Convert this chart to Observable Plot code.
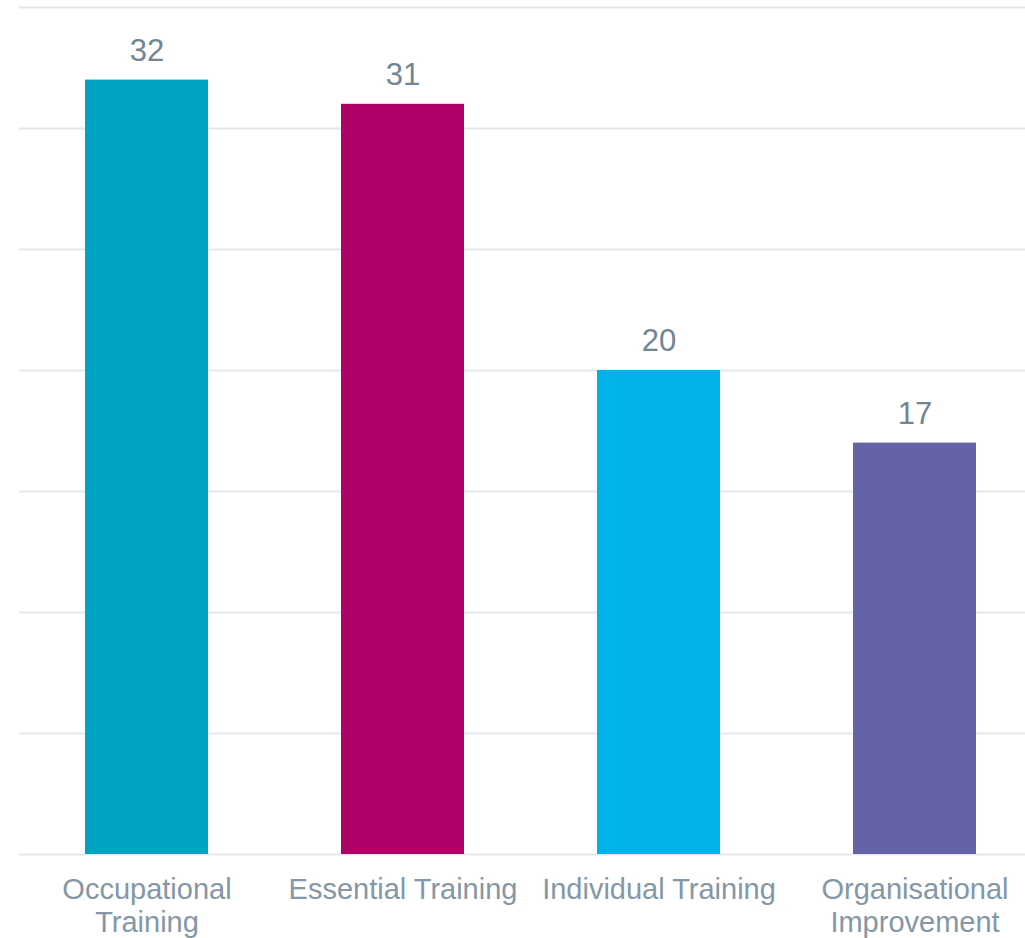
<!DOCTYPE html>
<html>
<head>
<meta charset="utf-8">
<script src="https://cdn.jsdelivr.net/npm/d3@7"></script>
<script src="https://cdn.jsdelivr.net/npm/@observablehq/plot@0.6"></script>
<style>
  html, body { margin: 0; padding: 0; background: #fff; }
  #chart svg { display: block; }
</style>
</head>
<body>
<div id="chart"></div>
<script>
const categories = ["Occupational Training", "Essential Training", "Individual Training", "Organisational Improvement"];
const tickLabels = ["Occupational\nTraining", "Essential Training", "Individual Training", "Organisational\nImprovement"];
const values = [32, 31, 20, 17];
const colors = ["#00A3C0", "#B0006A", "#00B2EA", "#6563A8"];
const gridTicks = [0, 5, 10, 15, 20, 25, 30, 35];

const data = categories.map((c, i) => ({category: c, value: values[i]}));
const labelOf = new Map(categories.map((c, i) => [c, tickLabels[i]]));

const chart = Plot.plot({
  width: 1025,
  height: 938,
  marginTop: 7,
  marginBottom: 84,
  marginLeft: 19,
  marginRight: 0,
  style: {fontFamily: "'Liberation Sans', Arial, sans-serif", background: "#fff"},
  x: {domain: categories, range: [18, 1042], paddingInner: 0.52, paddingOuter: 0.26, axis: null},
  y: {domain: [0, 35], axis: null},
  color: {domain: categories, range: colors},
  marks: [
    Plot.ruleY(gridTicks, {stroke: "#E4E7EB", strokeWidth: 2}),
    Plot.barY(data, {x: "category", y: "value", fill: "category"}),
    Plot.text(data, {x: "category", y: "value", text: d => String(d.value), lineAnchor: "middle", dy: -29, fontSize: 31, fill: "#728593"}),
    Plot.axisX({tickSize: 0, tickPadding: 21, fontSize: 29, lineHeight: 1.13, label: null, tickFormat: d => labelOf.get(d), fill: "#8497A6", color: "#8497A6"})
  ]
});
document.getElementById("chart").appendChild(chart);
</script>
</body>
</html>
